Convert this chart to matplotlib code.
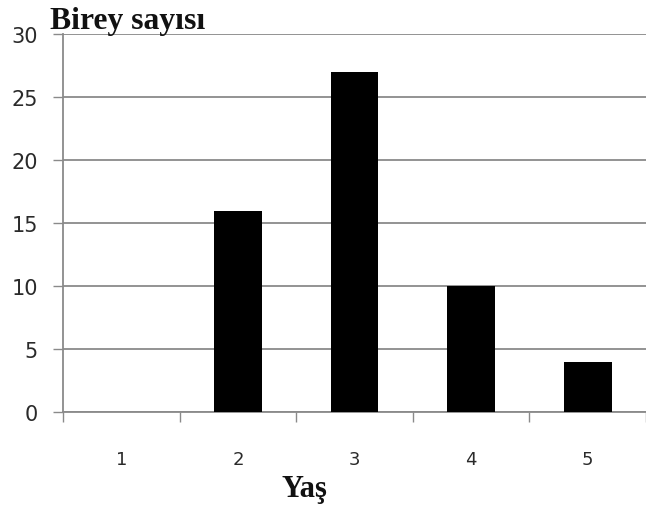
import matplotlib.pyplot as plt
import numpy as np

# yaş grupları ve birey sayıları
yas = ['1', '2', '3', '4', '5']
birey = [0, 16, 27, 10, 4]
y_ticks = [0, 5, 10, 15, 20, 25, 30]

fig = plt.figure(figsize=(6.46, 5.10), dpi=100)
ax = fig.add_axes([0.0975, 0.19, 0.9025, 0.741])

x = np.arange(1, len(yas) + 1)
ax.bar(x, birey, width=0.41, color='black', zorder=3)

ax.set_xlim(0.5, len(yas) + 0.5)
ax.set_ylim(0, 30)
ax.set_yticks(y_ticks)
ax.yaxis.grid(True, color='#8a8a8a', linewidth=1.3, zorder=0)

# kategori sınırlarında küçük çentikler
ax.set_xticks(x)
ax.set_xticklabels(yas)
ax.set_xticks(np.arange(0.5, len(yas) + 1, 1), minor=True)
ax.tick_params(axis='x', which='major', length=0, pad=27, labelsize=13, labelcolor='#2a2a2a')
ax.tick_params(axis='x', which='minor', length=7, width=1, color='#8a8a8a', direction='out')
ax.tick_params(axis='y', length=7, width=1, color='#8a8a8a', pad=11, labelsize=15, labelcolor='#2a2a2a')

for s in ['top', 'right']:
    ax.spines[s].set_visible(False)
ax.spines['left'].set_color('#8a8a8a')
ax.spines['bottom'].set_color('#8a8a8a')
ax.spines['left'].set_linewidth(1.3)
ax.spines['bottom'].set_linewidth(1.3)

fig.text(0.077, 0.957, 'Birey sayısı', family='Liberation Serif', fontweight='bold',
         fontsize=22.8, ha='left', va='center', color='#111111')
fig.text(0.471, 0.04, 'Yaş', family='Liberation Serif', fontweight='bold',
         fontsize=22, ha='center', va='center', color='#111111')

fig.savefig('out.png', dpi=100)
